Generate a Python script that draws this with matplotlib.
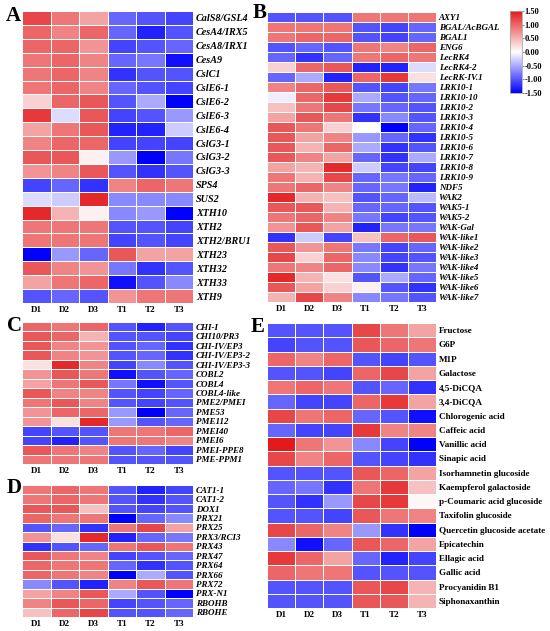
import numpy as np
import matplotlib
matplotlib.use('Agg')
import matplotlib.pyplot as plt
from matplotlib.colors import LinearSegmentedColormap

#****************************************************************************
# data (z-scores)
#****************************************************************************

samples = ['D1', 'D2', 'D3', 'T1', 'T2', 'T3']

genes_A = ['CalS8/GSL4', 'CesA4/IRX5', 'CesA8/IRX1', 'CesA9', 'CslC1',
           'CslE6-1', 'CslE6-2', 'CslE6-3', 'CslE6-4', 'CslG3-1', 'CslG3-2',
           'CslG3-3', 'SPS4', 'SUS2', 'XTH10', 'XTH2', 'XTH2/BRU1', 'XTH23',
           'XTH32', 'XTH33', 'XTH9']
vals_A = [
    [1.2, 0.9, 0.6, -0.9, -1.0, -1.1],
    [1.0, 0.8, 1.0, -0.9, -1.3, -1.0],
    [1.0, 1.0, 0.7, -1.1, -1.0, -0.9],
    [0.9, 1.0, 0.8, -0.9, -0.8, -1.4],
    [0.9, 1.0, 0.8, -1.2, -1.0, -1.0],
    [0.9, 1.0, 0.8, -0.9, -1.0, -1.1],
    [0.3, 1.0, 1.1, -1.0, -0.5, -1.5],
    [1.3, -0.2, 1.1, -1.1, -1.0, -0.6],
    [0.6, 0.9, 1.1, -1.3, -1.3, -0.3],
    [0.8, 1.0, 1.0, -1.1, -1.1, -1.1],
    [1.1, 1.1, 0.1, -0.6, -1.5, -0.8],
    [0.7, 0.8, 1.1, -1.0, -1.2, -1.0],
    [-1.1, -0.9, -1.2, 0.8, 1.0, 0.9],
    [-0.2, -0.3, 1.4, -0.7, -0.7, -0.7],
    [1.4, 0.5, 0.1, -0.7, -0.6, -1.5],
    [0.9, 0.9, 0.9, -1.0, -1.0, -1.1],
    [0.9, 0.9, 0.9, -1.1, -1.0, -1.1],
    [-1.5, -0.6, -0.9, 1.1, 0.6, 0.6],
    [1.1, 0.8, 0.7, -0.8, -1.2, -1.0],
    [0.6, 0.9, 1.0, -1.4, -1.0, -0.7],
    [-1.0, -0.9, -1.0, 0.7, 0.9, 0.9],
]

genes_B = ['AXY1', 'BGAL/AcBGAL', 'BGAL1', 'ENG6', 'LecRK4', 'LecRK4-2',
           'LecRK-IV.1', 'LRK10-1', 'LRK10-10', 'LRK10-2', 'LRK10-3',
           'LRK10-4', 'LRK10-5', 'LRK10-6', 'LRK10-7', 'LRK10-8', 'LRK10-9',
           'NDF5', 'WAK2', 'WAK5-1', 'WAK5-2', 'WAK-Gal', 'WAK-like1',
           'WAK-like2', 'WAK-like3', 'WAK-like4', 'WAK-like5', 'WAK-like6',
           'WAK-like7']
vals_B = [
    [-1.0, -1.0, -1.0, 0.9, 0.9, 0.9],
    [0.9, 0.9, 0.9, -1.0, -1.1, -0.9],
    [0.9, 1.0, 1.0, -1.0, -1.1, -0.9],
    [-1.0, -0.9, -1.0, 0.9, 0.8, 1.0],
    [-0.9, -1.2, -0.9, 0.9, 1.0, 0.9],
    [0.3, 1.0, 1.1, -1.3, -1.3, -0.2],
    [-0.9, -0.5, -1.3, 1.0, 1.3, 0.2],
    [0.8, 1.0, 1.1, -1.0, -1.1, -0.8],
    [-0.1, 1.0, 1.3, -0.5, -1.0, -0.9],
    [0.4, 0.9, 1.2, -0.8, -0.9, -1.0],
    [0.6, 1.1, 0.9, -1.2, -0.7, -1.0],
    [1.1, 0.9, 0.3, 0.0, -1.5, -0.9],
    [1.1, 0.6, 0.8, -0.6, -0.9, -1.2],
    [1.1, 0.5, 1.0, -0.5, -1.2, -1.0],
    [1.1, 0.8, 0.6, -0.9, -1.2, -0.5],
    [0.6, 0.5, 1.4, -0.3, -1.1, -1.1],
    [0.9, 0.5, 1.2, -0.9, -0.8, -0.9],
    [0.9, 1.0, 0.8, -0.9, -0.8, -1.3],
    [1.4, 0.5, 0.4, -1.0, -0.9, -0.4],
    [1.1, 1.1, 0.5, -0.9, -0.9, -1.0],
    [0.9, 1.0, 0.8, -0.8, -1.1, -1.0],
    [0.7, 1.1, 0.6, -1.3, -0.8, -0.8],
    [-1.2, -0.3, -1.1, 0.4, 1.0, 1.1],
    [1.1, 0.7, 0.9, -0.8, -1.1, -0.9],
    [1.2, 0.3, 1.0, -0.7, -1.1, -1.0],
    [0.9, 0.8, 1.0, -0.7, -1.2, -0.8],
    [1.4, 0.5, 0.2, -1.0, -0.5, -0.9],
    [1.1, 0.6, 0.3, 0.1, -1.0, -1.2],
    [0.5, 1.2, 0.8, -0.7, -0.8, -1.0],
]

genes_C = ['CHI-I', 'CHI10/PR3', 'CHI-IV/EP3', 'CHI-IV/EP3-2', 'CHI-IV/EP3-3',
           'COBL2', 'COBL4', 'COBL4-like', 'PME2/PMEI', 'PME53', 'PME112',
           'PMEI40', 'PMEI6', 'PMEI-PPE8', 'PME-PPM1']
vals_C = [
    [1.0, 0.9, 1.0, -1.0, -1.3, -1.0],
    [1.1, 1.0, 0.5, -1.0, -1.0, -1.1],
    [1.1, 0.8, 0.7, -1.0, -0.9, -1.2],
    [1.1, 0.8, 0.7, -1.0, -0.9, -1.2],
    [0.2, 1.4, 0.8, -1.1, -0.7, -1.0],
    [0.7, 1.1, 0.9, -1.4, -1.0, -0.9],
    [0.6, 0.9, 1.1, -0.8, -1.4, -1.0],
    [1.1, 0.8, 0.8, -1.0, -1.1, -0.9],
    [0.9, 1.1, 0.8, -1.0, -1.1, -1.0],
    [0.7, 1.0, 1.0, -0.6, -1.5, -0.9],
    [0.7, 0.2, 1.4, -0.6, -1.0, -0.9],
    [-1.1, -1.0, -1.0, 0.9, 0.9, 1.0],
    [-1.1, -1.3, -1.0, 0.9, 0.9, 0.8],
    [1.1, 0.9, 0.8, -1.0, -0.9, -1.1],
    [0.9, 0.9, 0.9, -1.0, -1.0, -1.0],
]

genes_D = ['CAT1-1', 'CAT1-2', 'DOX1', 'PRX21', 'PRX25', 'PRX3/RCI3', 'PRX43',
           'PRX47', 'PRX64', 'PRX66', 'PRX72', 'PRX-N1', 'RBOHB', 'RBOHE']
vals_D = [
    [0.9, 1.0, 0.9, -1.0, -1.3, -1.1],
    [0.9, 1.0, 0.9, -1.0, -1.2, -1.0],
    [1.1, 1.1, 0.4, -1.0, -1.1, -1.0],
    [1.0, 0.9, 0.9, -1.5, -0.9, -0.7],
    [-1.0, -0.9, -1.2, 0.9, 1.2, 0.6],
    [0.7, 0.2, 1.4, -1.3, -0.9, -0.8],
    [-1.2, -1.0, -0.9, 0.9, 1.1, 0.9],
    [1.1, 0.9, 0.8, -1.1, -1.0, -0.9],
    [1.0, 0.9, 0.9, -0.9, -1.2, -1.0],
    [1.0, 0.9, 0.8, -1.5, -0.5, -1.0],
    [-0.7, -1.0, -1.3, 0.8, 1.1, 0.9],
    [0.6, 0.8, 1.1, -0.5, -1.0, -1.5],
    [0.8, 1.1, 1.0, -1.1, -1.0, -0.9],
    [0.4, 1.0, 1.2, -1.0, -1.0, -0.9],
]

metab_E = ['Fructose', 'G6P', 'M1P', 'Galactose', '4,5-DiCQA', '3,4-DiCQA',
           'Chlorogenic acid', 'Caffeic acid', 'Vanillic acid', 'Sinapic acid',
           'Isorhamnetin glucoside', 'Kaempferol galactoside',
           'p-Coumaric acid glucoside', 'Taxifolin glucoside',
           'Quercetin glucoside acetate', 'Epicatechin', 'Ellagic acid',
           'Gallic acid', 'Procyanidin B1', 'Siphonaxanthin']
vals_E = [
    [-1.0, -1.0, -1.0, 1.2, 0.9, 0.6],
    [-1.1, -1.0, -1.0, 1.1, 1.0, 0.9],
    [1.0, 0.8, 1.0, -1.0, -1.1, -1.0],
    [-1.0, -1.0, -1.1, 1.0, 1.2, 0.6],
    [0.9, 1.0, 0.9, -1.0, -0.9, -1.2],
    [-0.9, -1.1, -1.1, 1.0, 1.3, 0.6],
    [1.2, 0.9, 1.0, -0.9, -1.0, -1.4],
    [-0.9, -1.1, -1.1, 1.3, 0.8, 0.8],
    [1.5, 0.9, 0.7, -0.7, -1.1, -1.5],
    [1.2, 0.8, 1.0, -1.0, -1.1, -1.2],
    [-1.0, -1.0, -1.0, 1.1, 1.0, 0.6],
    [-0.9, -0.8, -1.2, 0.9, 1.3, 0.4],
    [-1.0, -1.2, -0.6, 1.2, 1.3, 0.05],
    [-1.0, -1.0, -1.1, 1.1, 0.9, 0.8],
    [1.2, 1.0, 0.8, -0.6, -1.2, -1.5],
    [-0.7, -1.4, -0.9, 1.1, 1.0, 0.6],
    [1.3, 1.0, 0.6, -0.9, -1.3, -1.1],
    [1.0, 0.9, 0.9, -1.0, -1.0, -1.0],
    [-1.0, -1.0, -1.0, 1.1, 1.2, 0.5],
    [-1.0, -1.0, -1.0, 1.1, 1.1, 0.5],
]

cbar_ticks = [1.5, 1.0, 0.5, 0.0, -0.5, -1.0, -1.5]

#****************************************************************************

W, H = 550, 631
cmap = LinearSegmentedColormap.from_list('bwr_tb', ['#0000ff', '#ffffff', '#e31a1c'])
serif = 'Liberation Serif'
plt.rcParams['axes.unicode_minus'] = False


def px_axes(fig, x0, y0, x1, y1):
    # pixel box (top-left origin) -> figure axes
    return fig.add_axes([x0 / W, 1 - y1 / H, (x1 - x0) / W, (y1 - y0) / H])


def heat(ax, vals, labels, lab_size, italic=True):
    data = np.array(vals)
    mesh = ax.pcolormesh(data, cmap=cmap, vmin=-1.5, vmax=1.5,
                         edgecolors='white', linewidth=0.6)
    ax.set_xlim(0, data.shape[1])
    ax.set_ylim(data.shape[0], 0)
    ax.yaxis.tick_right()
    ax.set_yticks(np.arange(data.shape[0]) + 0.5)
    ax.set_yticklabels(labels, fontsize=lab_size, fontweight='bold',
                       fontstyle='italic' if italic else 'normal',
                       family=serif)
    ax.set_xticks(np.arange(data.shape[1]) + 0.5)
    ax.set_xticklabels(samples, fontsize=6.5, fontweight='bold', family=serif)
    ax.tick_params(length=0, pad=2)
    for s in ax.spines.values():
        s.set_visible(False)
    return mesh


def main():
    fig = plt.figure(figsize=(W / 100, H / 100), dpi=100)

    axA = px_axes(fig, 22, 11, 193, 303)
    axB = px_axes(fig, 267, 12, 436, 302)
    axC = px_axes(fig, 22, 322, 193, 464)
    axD = px_axes(fig, 22, 485, 193, 617)
    axE = px_axes(fig, 267, 323, 436, 608)

    heat(axA, vals_A, genes_A, 7.3)
    mesh = heat(axB, vals_B, genes_B, 6.5)
    heat(axC, vals_C, genes_C, 6.5)
    heat(axD, vals_D, genes_D, 6.5)
    heat(axE, vals_E, metab_E, 6.6, italic=False)

    #-------------------------------------------------------
    # colour bar
    #-------------------------------------------------------
    cax = px_axes(fig, 510, 11, 522, 93)
    cb = fig.colorbar(mesh, cax=cax, ticks=cbar_ticks)
    cb.ax.set_yticklabels(['%.2f' % t for t in cbar_ticks],
                          fontsize=6, fontweight='bold', family=serif)
    cb.ax.tick_params(length=1.5, width=0.5, pad=0.5, color='#555555')
    cb.outline.set_edgecolor('#aaaaaa')
    cb.outline.set_linewidth(0.6)

    #-------------------------------------------------------
    # panel letters
    #-------------------------------------------------------
    for letter, x, y in [('A', 13, 16), ('B', 260, 13), ('C', 14, 326),
                         ('D', 14, 488), ('E', 258, 327)]:
        fig.text(x / W, 1 - y / H, letter, ha='center', va='center',
                 fontsize=15, fontweight='bold', family=serif)

    fig.savefig('out.png', dpi=100)


if (__name__ == "__main__"):
    main()
